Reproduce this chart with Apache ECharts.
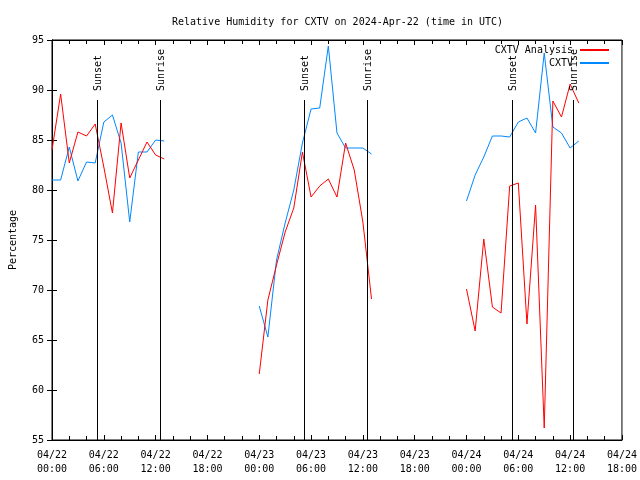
<!DOCTYPE html>
<html>
<head>
<meta charset="utf-8">
<script src="https://cdn.jsdelivr.net/npm/echarts@6/dist/echarts.min.js"></script>
<style>html,body{margin:0;padding:0;background:#fff}#c{width:640px;height:480px}</style>
</head>
<body>
<div id="c"></div>
<script>
// ---- data ----
const segmentStartHours = [0, 24, 48];
const analysisValues = [
  [84.0, 89.6, 82.7, 85.8, 85.4, 86.6, 82.3, 77.7, 86.7, 81.2, 83.0, 84.8, 83.5, 83.1],
  [61.6, 69.0, 72.5, 75.8, 78.2, 83.8, 79.3, 80.4, 81.1, 79.3, 84.7, 82.0, 76.8, 69.1],
  [70.1, 65.9, 75.1, 68.3, 67.7, 80.4, 80.7, 66.6, 78.5, 56.2, 88.9, 87.3, 90.6, 88.7]
];
const observedValues = [
  [81.0, 81.0, 84.3, 80.9, 82.8, 82.7, 86.8, 87.5, 84.7, 76.8, 83.8, 83.8, 85.0, 84.9],
  [68.4, 65.3, 73.0, 76.7, 80.0, 84.7, 88.1, 88.2, 94.4, 85.7, 84.2, 84.2, 84.2, 83.6],
  [78.9, 81.5, 83.3, 85.4, 85.4, 85.3, 86.8, 87.2, 85.7, 93.7, 86.3, 85.7, 84.2, 84.9]
];
const eventHours = [5.17, 12.53, 29.15, 36.5, 53.23, 60.35];
const eventNames = ['Sunset', 'Sunrise', 'Sunset', 'Sunrise', 'Sunset', 'Sunrise'];
const xTickLabels = ['04/22\n00:00','04/22\n06:00','04/22\n12:00','04/22\n18:00',
  '04/23\n00:00','04/23\n06:00','04/23\n12:00','04/23\n18:00',
  '04/24\n00:00','04/24\n06:00','04/24\n12:00','04/24\n18:00'];
const seriesNames = ['CXTV Analysis', 'CXTV'];
const titleText = 'Relative Humidity for CXTV on 2024-Apr-22 (time in UTC)';
const yAxisName = 'Percentage';

function buildData(segs) {
  const out = [];
  segs.forEach((vals, s) => {
    const start = segmentStartHours[s];
    vals.forEach((v, i) => out.push([start + i, v]));
    out.push([start + vals.length - 0.5, null]);
  });
  return out;
}

const FONT = 'DejaVu Sans Mono';
const RED = '#ff0000', BLUE = '#0088ff';
const chart = echarts.init(document.getElementById('c'), null, {renderer: 'canvas'});

const axisCommon = {
  axisLine: {show: true, lineStyle: {color: '#000', width: 1}},
  splitLine: {show: false}
};

chart.setOption({
  animation: false,
  backgroundColor: '#fff',
  textStyle: {fontFamily: FONT},
  title: {
    text: titleText, left: 167, top: 12,
    textStyle: {fontFamily: FONT, fontSize: 10, fontWeight: 'normal', color: '#000'}
  },
  grid: {left: 46, right: 18, top: 40, bottom: 40, show: true, borderColor: '#000', borderWidth: 1},
  legend: [
    {data: [seriesNames[0]], right: 30, top: 45, orient: 'vertical', align: 'right',
     itemWidth: 29, itemHeight: 2, itemGap: 4, padding: 0,
     textStyle: {fontFamily: FONT, fontSize: 10, color: '#000', padding: [0, 2, 0, 0]}},
    {data: [seriesNames[1]], right: 30, top: 58, orient: 'vertical', align: 'right',
     itemWidth: 29, itemHeight: 2, itemGap: 4, padding: 0,
     textStyle: {fontFamily: FONT, fontSize: 10, color: '#000', padding: [0, 2, 0, 0]}}
  ],
  xAxis: [
    Object.assign({}, axisCommon, {
      type: 'value', min: 0, max: 66, interval: 6, position: 'bottom',
      axisTick: {show: true, inside: true, length: 5, lineStyle: {color: '#000'}},
      minorTick: {show: true, splitNumber: 3, length: 4, lineStyle: {color: '#000'}},
      axisLabel: {
        show: true, margin: 8, color: '#000', fontFamily: FONT, fontSize: 10, lineHeight: 14,
        formatter: v => xTickLabels[Math.round(v / 6)] || ''
      }
    }),
    Object.assign({}, axisCommon, {
      type: 'value', min: 0, max: 66, interval: 6, position: 'top',
      axisTick: {show: true, inside: true, length: 5, lineStyle: {color: '#000'}},
      minorTick: {show: true, splitNumber: 3, length: 4, lineStyle: {color: '#000'}},
      axisLabel: {show: false}
    })
  ],
  yAxis: [
    Object.assign({}, axisCommon, {
      type: 'value', min: 55, max: 95, interval: 5, position: 'left',
      name: yAxisName, nameLocation: 'middle', nameGap: 34, nameRotate: 90,
      nameTextStyle: {fontFamily: FONT, fontSize: 10, color: '#000'},
      axisTick: {show: true, inside: true, length: 5, lineStyle: {color: '#000'}},
      axisLabel: {show: true, margin: 8, color: '#000', fontFamily: FONT, fontSize: 10}
    }),
    Object.assign({}, axisCommon, {
      type: 'value', min: 55, max: 95, interval: 5, position: 'right',
      axisTick: {show: true, inside: true, length: 5, lineStyle: {color: '#000'}},
      axisLabel: {show: false}
    })
  ],
  series: [
    {
      name: seriesNames[0], type: 'line', xAxisIndex: 0, yAxisIndex: 0,
      data: buildData(analysisValues), symbol: 'none', connectNulls: false,
      lineStyle: {color: RED, width: 1}, itemStyle: {color: RED}, z: 3
    },
    {
      name: seriesNames[1], type: 'line', xAxisIndex: 0, yAxisIndex: 0,
      data: buildData(observedValues), symbol: 'none', connectNulls: false,
      lineStyle: {color: BLUE, width: 1}, itemStyle: {color: BLUE}, z: 2
    },
    {
      name: 'events', type: 'custom', xAxisIndex: 0, yAxisIndex: 0, z: 4,
      data: eventHours.map((h, i) => [h, i]),
      renderItem: function (params, api) {
        const h = api.value(0);
        const idx = api.value(1);
        const p0 = api.coord([h, 55]);
        const p1 = api.coord([h, 89]);
        const pt = api.coord([h, 89.9]);
        const x = Math.round(p0[0]) + 0.5;
        return {
          type: 'group',
          children: [
            {type: 'line', shape: {x1: x, y1: p0[1], x2: x, y2: p1[1]},
             style: {stroke: '#000', lineWidth: 1}},
            {type: 'text', x: x + 6, y: pt[1], rotation: Math.PI / 2,
             style: {text: eventNames[idx], fill: '#000', font: '10px ' + FONT,
                     align: 'left', verticalAlign: 'bottom'}}
          ]
        };
      }
    }
  ]
});
</script>
</body>
</html>
